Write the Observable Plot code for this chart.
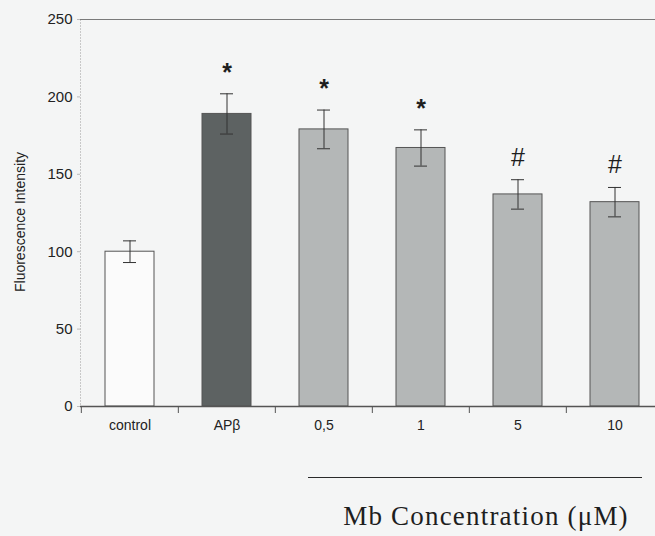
<!DOCTYPE html>
<html>
<head>
<meta charset="utf-8">
<script src="https://cdn.jsdelivr.net/npm/d3@7"></script>
<script src="https://cdn.jsdelivr.net/npm/@observablehq/plot@0.6"></script>
<style>
  html, body { margin: 0; padding: 0; background: #f4f5f5; }
  #wrap { position: relative; width: 655px; height: 536px; overflow: hidden; font-family: "Liberation Sans", Arial, sans-serif; }
  #rule { position: absolute; left: 308px; top: 477px; width: 334px; border-top: 1.5px solid #2a2a2a; }
  #xcap { position: absolute; left: 486px; top: 503px; transform: translateX(-50%); white-space: nowrap;
          font-family: "Liberation Serif", "Times New Roman", serif; font-size: 27px; line-height: 27px; letter-spacing: 1.2px; color: #1e1e1e; }
</style>
</head>
<body>
<div id="wrap">
  <div id="chart"></div>
  <div id="rule"></div>
  <div id="xcap">Mb Concentration (μM)</div>
</div>
<script>
const categories = ["control", "APβ", "0,5", "1", "5", "10"];
const means = [100, 189, 179, 167, 137, 132];
const errors = [7, 13, 12.5, 11.7, 9.5, 9.5];
const signif = ["", "*", "*", "*", "#", "#"];
const yTicks = [0, 50, 100, 150, 200, 250];
const yLabel = "Fluorescence Intensity";

const data = categories.map((c, i) => ({cat: c, mean: means[i], err: errors[i], sig: signif[i]}));

const xRange = [80, 664];
const step = (xRange[1] - xRange[0]) / categories.length;

const chart = Plot.plot({
  width: 655,
  height: 450,
  marginLeft: 80,
  marginRight: 0,
  marginTop: 19,
  marginBottom: 44,
  style: {background: "transparent", fontFamily: "'Liberation Sans', Arial, sans-serif", fontSize: "14px", color: "#222", overflow: "visible"},
  x: {domain: categories, range: xRange, paddingInner: 0.5, paddingOuter: 0.25},
  y: {domain: [0, 250]},
  color: {domain: categories, range: ["#fbfbfb", "#5d6262", "#b4b7b7", "#b4b7b7", "#b4b7b7", "#b4b7b7"]},
  marks: [
    Plot.frame({anchor: "left", stroke: "#c8c8c8", strokeDasharray: "1,2"}),
    Plot.ruleY([250], {stroke: "#7a7a7a", strokeWidth: 1.2}),
    Plot.barY(data, {x: "cat", y: "mean", fill: "cat", stroke: "#555", strokeWidth: 1}),
    Plot.ruleX(data, {x: "cat", y1: d => d.mean - d.err, y2: d => d.mean + d.err, stroke: "#333", strokeWidth: 1}),
    Plot.tickY(data, {x: "cat", y: d => d.mean + d.err, stroke: "#333", strokeWidth: 1, insetLeft: 18, insetRight: 18}),
    Plot.tickY(data, {x: "cat", y: d => d.mean - d.err, stroke: "#333", strokeWidth: 1, insetLeft: 18, insetRight: 18}),
    Plot.text(data.filter(d => d.sig === "*"), {x: "cat", y: d => d.mean + d.err, text: "sig", lineAnchor: "bottom", dy: -13, fontSize: 25, fontWeight: "bold", fill: "#1e1e1e"}),
    Plot.text(data.filter(d => d.sig === "#"), {x: "cat", y: d => d.mean + d.err, text: "sig", lineAnchor: "bottom", dy: -14, fontSize: 25, fill: "#1e1e1e"}),
    Plot.ruleY([0], {stroke: "#555", strokeWidth: 1.5}),
    Plot.axisY({ticks: yTicks, tickSize: 3, tickPadding: 5, stroke: "#bbb", fill: "#222", fontSize: 15, label: null}),
    Plot.text([yLabel], {frameAnchor: "left", textAnchor: "middle", rotate: -90, dx: -60, dy: 9, fontSize: 14, fill: "#222"}),
    Plot.axisX(categories, {tickSize: 7, text: null, dx: -step / 2, stroke: "#555", label: null}),
    Plot.axisX({tickSize: 0, tickPadding: 14, label: null, fill: "#222", fontSize: 14})
  ]
});
document.getElementById("chart").appendChild(chart);
</script>
</body>
</html>
